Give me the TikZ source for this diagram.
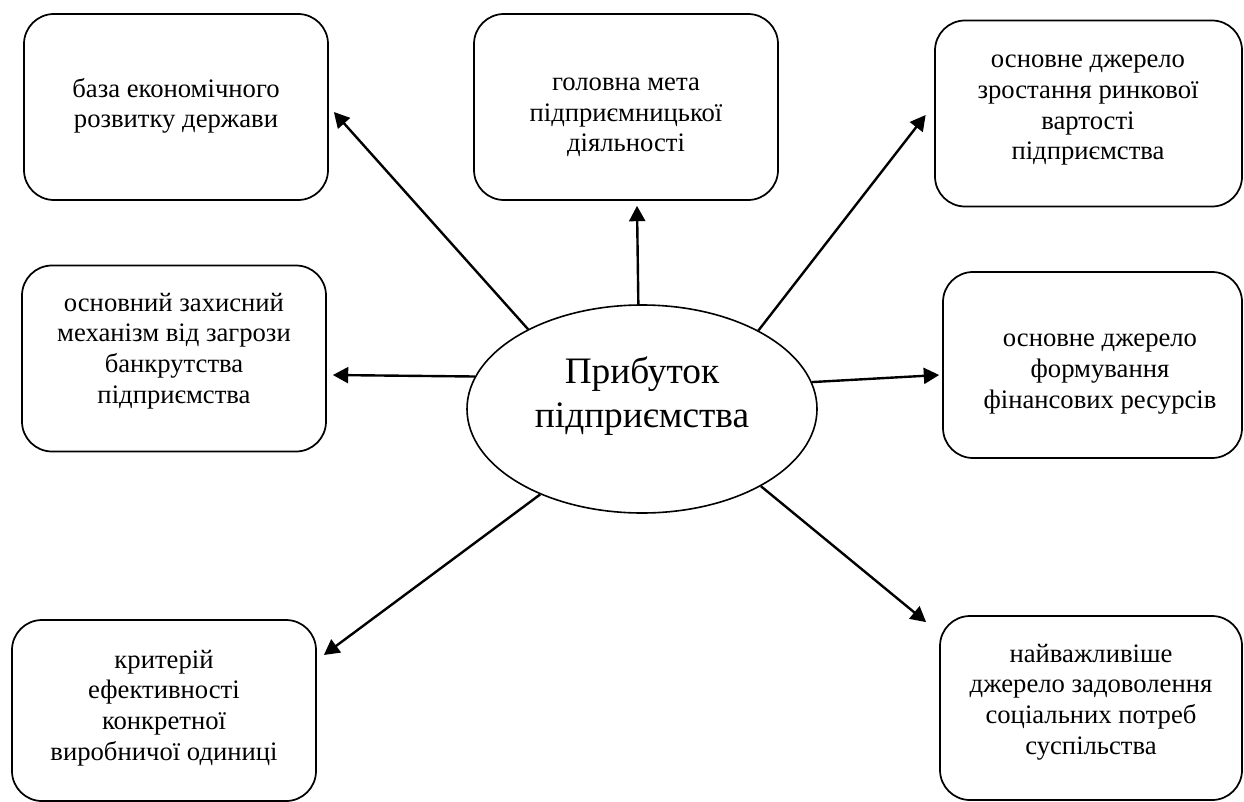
\documentclass[tikz,border=0pt]{standalone}
\usepackage{fontspec}
\setmainfont{Liberation Serif}
\usetikzlibrary{shapes.geometric,arrows.meta,calc}

\tikzset{every picture/.style={line width=0.75pt}}
\tikzset{
  blok/.style={draw, line width=1.3pt, rounded corners=22.5pt, minimum width=228pt, minimum height=139.5pt, inner sep=0pt},
  napys/.style={align=center, inner sep=0.75pt, font=\fontsize{20pt}{23pt}\selectfont},
  strilka/.style={line width=1.8pt, -{Triangle[length=11.5pt,width=12pt]}}
}

\begin{document}
\begin{tikzpicture}[x=0.75pt,y=0.75pt,yscale=-1,xscale=1]
\useasboundingbox (0,0) rectangle (1244,802);

%Shape: Ellipse
\node [draw, ellipse, line width=1.2pt, minimum width=262.5pt, minimum height=156pt, inner sep=0pt] (centre) at (642,409) {};
% Text Node
\node [align=center, inner sep=0.75pt, font=\fontsize{28pt}{33pt}\selectfont] (centretxt) at (642,396) {Прибуток\\підприємства};

%Rounded Rect
\node [blok] (box1) at (176,107) {};
%Rounded Rect
\node [blok] (box2) at (626,107) {};
%Rounded Rect
\node [blok, minimum width=230.25pt] (box3) at (1088.5,113.5) {};
%Rounded Rect
\node [blok] (box4) at (174,358.5) {};
%Rounded Rect
\node [blok, minimum width=224.25pt] (box5) at (1092.5,365) {};
%Rounded Rect
\node [blok, minimum height=135.75pt] (box6) at (164,710.5) {};
%Rounded Rect
\node [blok, minimum width=226.5pt, minimum height=138pt] (box7) at (1091,708) {};

% Text Node
\node [napys] (txt1) at (176,106) {база економічного\\розвитку держави};
% Text Node
\node [napys] (txt2) at (626,117.5) {головна мета\\підприємницької\\діяльності};
% Text Node
\node [napys] (txt3) at (1088,110.5) {основне джерело\\зростання ринкової\\вартості\\підприємства};
% Text Node
\node [napys] (txt4) at (174,351) {основний захисний\\механізм від загрози\\банкрутства\\підприємства};
% Text Node
\node [napys] (txt5) at (1100,374) {основне джерело\\формування\\фінансових ресурсів};
% Text Node
\node [napys] (txt6) at (164,708) {критерій\\ефективності\\конкретної\\виробничої одиниці};
% Text Node
\node [napys] (txt7) at (1091,702) {найважливіше\\джерело задоволення\\соціальних потреб\\суспільства};

%Straight Lines
\draw [strilka] (centre.145) -- ($(box1.east)+(5,5)$);
%Straight Lines
\draw [strilka] (centre.92) -- ($(box2.south)+(11,5)$);
%Straight Lines
\draw [strilka] (centre.34.5) -- ($(box3.west)+(-8.5,1.5)$);
%Straight Lines
\draw [strilka] (centre.169.4) -- ($(box4.east)+(6,16.5)$);
%Straight Lines
\draw [strilka] (centre.9.7) -- ($(box5.west)+(-3,10)$);
%Straight Lines
\draw [strilka] (centre.220) -- ($(box6.east)+(7,-55.5)$);
%Straight Lines
\draw [strilka] (centre.327) -- ($(box7.north west)+(-13,7)$);

\end{tikzpicture}
\end{document}
